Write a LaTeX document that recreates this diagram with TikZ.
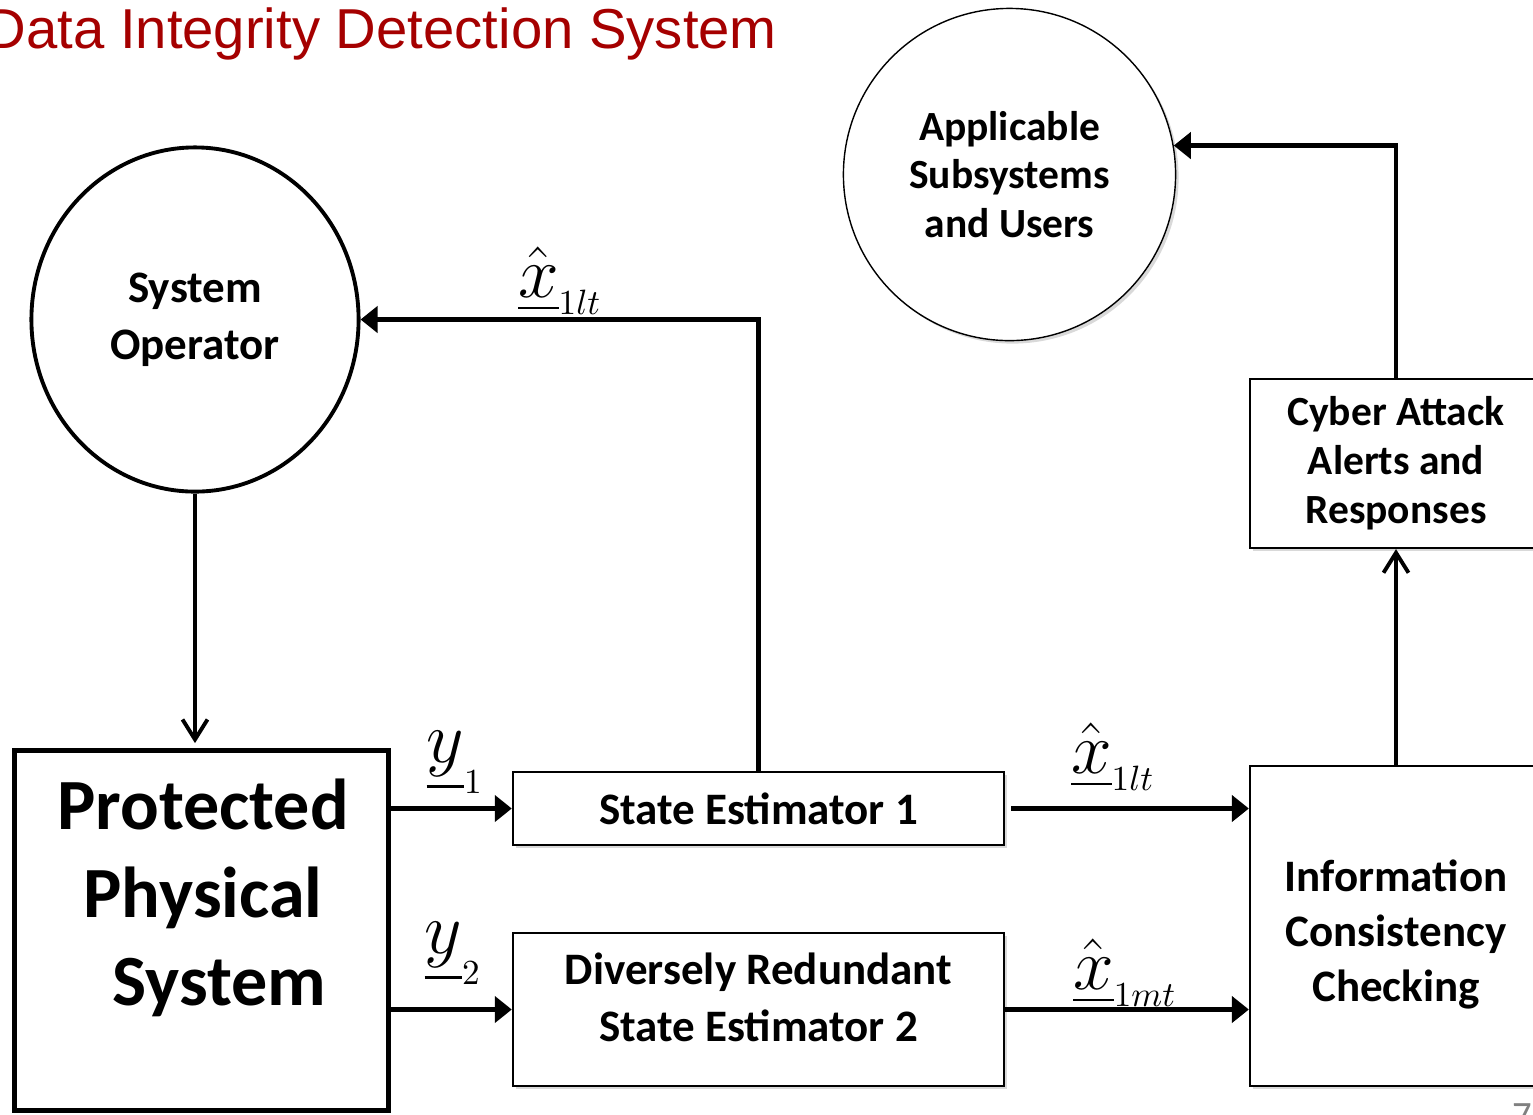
\documentclass[tikz,border=0pt]{standalone}
\usepackage{amsmath}
\usepackage[no-math]{fontspec}
\setmainfont{Carlito}
\newfontfamily\titlefont{Liberation Sans}
\usepackage{tikz}
\usetikzlibrary{arrows.meta,shadows,shapes.geometric}
\definecolor{titlered}{RGB}{165,0,0}

\begin{document}
\begin{tikzpicture}[x=0.01cm,y=-0.01cm,
  oval/.style={draw,ellipse,line width=1.1pt,inner sep=0pt,align=center,font=\fontsize{12.8}{16.2}\selectfont\bfseries},
  bubble/.style={draw,circle,fill=white,line width=0.4pt,inner sep=0pt,align=center,font=\fontsize{11.8}{13.9}\selectfont\bfseries,drop shadow={shadow xshift=0.03cm,shadow yshift=-0.03cm,opacity=0.3}},
  block/.style={draw,fill=white,line width=0.6pt,inner sep=0pt,align=center,font=\fontsize{12.8}{16.2}\selectfont\bfseries,drop shadow={shadow xshift=0.03cm,shadow yshift=-0.03cm,opacity=0.3}},
  flow/.style={line width=1.4pt,-{Triangle[length=0.17cm,width=0.26cm]}},
  barb/.style={line width=1.1pt,-{Straight Barb[length=0.2cm,width=0.25cm]}},
  sig/.style={inner sep=0pt,font=\fontsize{20}{20}\selectfont}]
\useasboundingbox (0,0) rectangle (1533,1114);

% title and page number
\node[anchor=base west,inner sep=0pt,text=titlered,font=\titlefont\fontsize{16}{19}\selectfont] (title) at (-15,48.5) {Data Integrity Detection System};
\node[anchor=north,inner sep=0pt,text=gray,font=\fontsize{11}{11}\selectfont] (pagenum) at (1522,1103) {7};

% operator side
\node[oval,minimum width=3.27cm,minimum height=3.44cm] (so) at (195,319.5) {System\\Operator};
\node[draw,line width=1.3pt,minimum width=3.74cm,minimum height=3.6cm] (pps) at (201.5,930.5) {};
\node[inner sep=0pt,align=center,font=\fontsize{20.5}{25}\selectfont\bfseries] (ppstext) at (203,898) {Protected\\Physical\\\hspace*{0.45em}System};

% estimators
\node[block,minimum width=4.91cm,minimum height=0.73cm] (se1) at (758.5,808.5) {State Estimator 1};
\node[block,minimum width=4.91cm,minimum height=1.53cm,text depth=0.25cm] (se2) at (758.5,1009.5) {Diversely Redundant\\State Estimator 2};

% checking and alerts
\node[block,minimum width=2.92cm,minimum height=3.2cm,font=\fontsize{12.8}{15.6}\selectfont\bfseries,text height=1.58cm] (icc) at (1396,926) {Information\\Consistency\\Checking};
\node[block,minimum width=2.92cm,minimum height=1.69cm,font=\fontsize{11.8}{13.9}\selectfont\bfseries] (car) at (1396,463.5) {Cyber Attack\\Alerts and\\Responses};
\node[bubble,minimum size=3.32cm] (asu) at (1009.5,174.5) {Applicable\\Subsystems\\and Users};

% connectors
\draw[barb,shorten >=0.05cm] (so.south) -- (so.south |- pps.north);
\draw[flow] (se1.north) |- (so.east);
\draw[flow] (pps.east |- se1.west) -- (se1.west);
\draw[flow] (pps.east |- se2.west) -- (se2.west);
\draw[flow,shorten <=0.06cm] (se1.east) -- (se1.east -| icc.west);
\draw[flow] (se2.east) -- (se2.east -| icc.west);
\draw[barb] (icc.north) -- (car.south);
\draw[flow] (car.north) |- (asu.10);

% signal labels
\node[sig] (xtop) at (560,281) {$\hat{\underline{x}}_{\scriptscriptstyle 1lt}$};
\node[sig] (yone) at (455,762) {$\underline{y}_{\scriptscriptstyle 1}$};
\node[sig] (ytwo) at (453,953) {$\underline{y}_{\scriptscriptstyle 2}$};
\node[sig] (xone) at (1113,757) {$\hat{\underline{x}}_{\scriptscriptstyle 1lt}$};
\node[sig] (xtwo) at (1125,973) {$\hat{\underline{x}}_{\scriptscriptstyle 1mt}$};
\end{tikzpicture}
\end{document}
